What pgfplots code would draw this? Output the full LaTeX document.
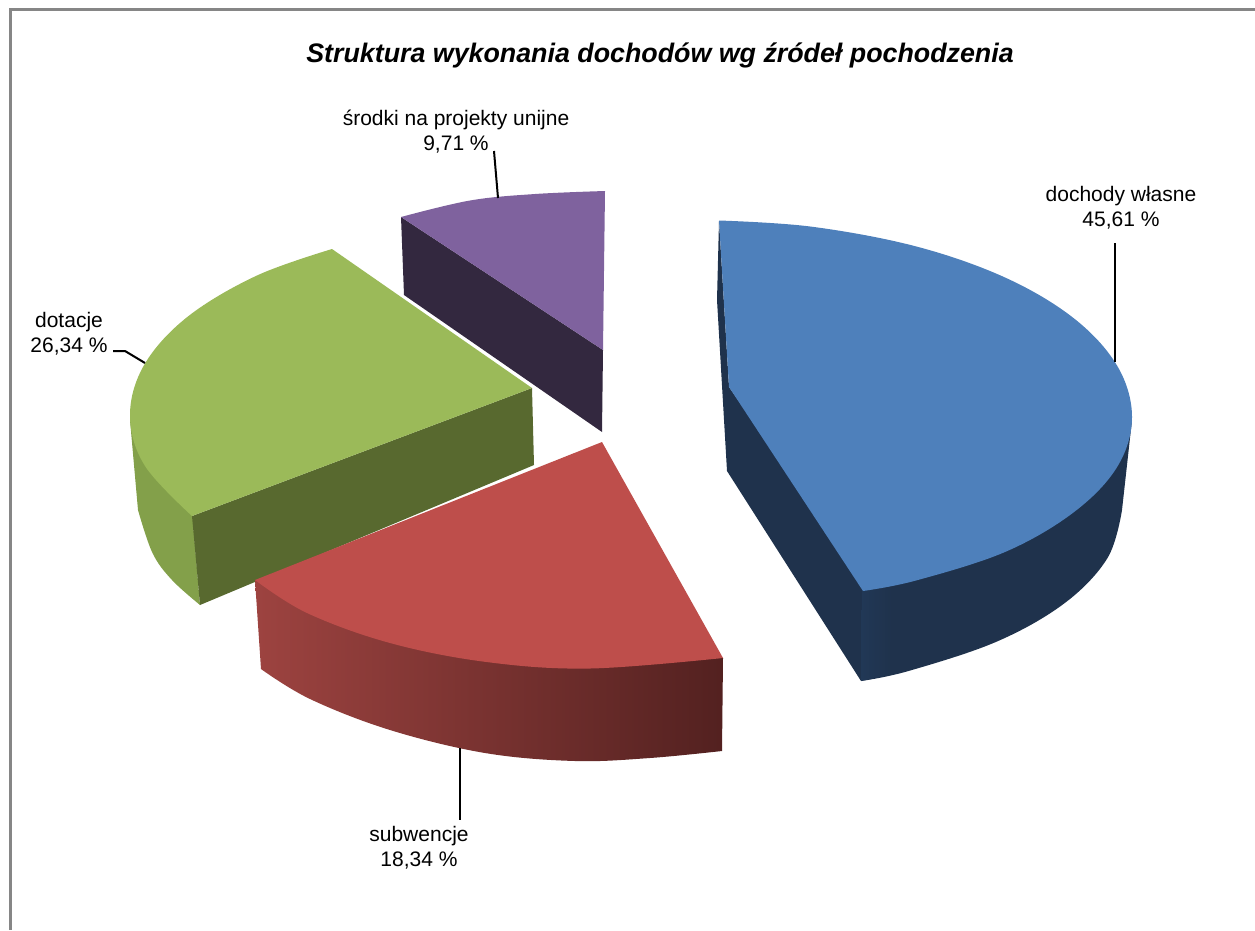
\documentclass[border=0pt]{standalone}
\usepackage{pgfplots}
\pgfplotsset{compat=1.18}
\usepackage{fontspec}
\setmainfont{Liberation Sans}
\definecolor{bluetop}{HTML}{4E80BB}
\definecolor{bluedark}{HTML}{1F324C}
\definecolor{bluelite}{HTML}{213856}
\definecolor{greentop}{HTML}{9BBA59}
\definecolor{greenwall}{HTML}{58692F}
\definecolor{greenout}{HTML}{83A04A}
\definecolor{redtop}{HTML}{BE4E4B}
\definecolor{redl}{HTML}{9D4340}
\definecolor{redr}{HTML}{532120}
\definecolor{purtop}{HTML}{7F629E}
\definecolor{purdark}{HTML}{33283F}
\definecolor{framec}{HTML}{868686}
\tikzset{
  face/.style={draw=none,fill=#1},
  curve/.style={draw=none,fill=#1,smooth,tension=0.6},
  lead/.style={black,line width=2pt},
  lab/.style={align=center,font=\fontsize{21}{25.5}\selectfont,inner sep=0pt}}
\begin{document}
\begin{tikzpicture}
\path[use as bounding box] (0,0) rectangle (1255pt,930pt);
\begin{axis}[at={(0,0)},anchor=south west,width=1255pt,height=930pt,scale only axis,hide axis,
  xmin=0,xmax=1255,ymin=0,ymax=930,y dir=reverse,clip=true,
  every axis plot/.append style={no markers}]
% frame
\addplot[framec,line width=3pt] coordinates {(10.5,930)(10.5,9.5)(1255,9.5)};
% purple
\addplot[face=purdark] coordinates {(401,217)(404,295)(602,432)(603,350)} -- cycle;
\addplot[curve=purtop] coordinates {(401,217)(470,200.5)(535,194)(605,191)} -- (axis cs:603,350) -- cycle;
% green
\addplot[curve=greenout] coordinates {(138,510)(152.5,553)(172,580)(200,605)} -- (axis cs:192,510) -- (axis cs:130,420) -- cycle;
\addplot[face=greenwall] coordinates {(192,516)(200,605)(534,465)(532,388)} -- cycle;
\addplot[curve=greentop] coordinates {(332,249)(256.5,275.7)(187.9,316.5)(144.7,364)(130,415)(144.7,465.5)(192,516)} -- (axis cs:532,388) -- cycle;
% red
\addplot[draw=none,smooth,tension=0.6,left color=redl,right color=redr] coordinates {(261,669)(310,699)(390,730)(485,753)(575,761)(650,758)(722,751)} -- (axis cs:723,658) -- (axis cs:255,580) -- cycle;
\addplot[curve=redtop] coordinates {(255,580)(307,613)(390,643)(486.5,662)(590,668.5)(723,658)} -- (axis cs:602,442) -- cycle;
% blue
\addplot[face=bluedark] coordinates {(719,221)(717,300)(727,471)(861,681)(870,591)(729,387)} -- cycle;
\addplot[curve=bluedark] coordinates {(1122,510)(1107.5,558)(1064.8,603)(997,641.5)(908.5,671)(861,681)} -- (axis cs:863,585) -- (axis cs:1132,420) -- cycle;
\addplot[draw=none,left color=bluelite,right color=bluedark] coordinates {(862,585)(861,681)(890,675)(892,585)} -- cycle;
\addplot[curve=bluetop] coordinates {(719,220.5)(811.8,226.7)(916,246.4)(1005.5,277.7)(1074.1,318.5)(1117.3,366)(1132,417)(1117.3,466.7)(1074.1,512)(1005.5,551.8)(916,580.5)(863,591)} -- (axis cs:729,387) -- cycle;
% leaders
\addplot[lead] coordinates {(1115,362)(1115,243)};
\addplot[lead] coordinates {(498,198)(494,151)};
\addplot[lead] coordinates {(145,363)(125,351)(113,351)};
\addplot[lead] coordinates {(460,748)(460,820)};
% text
\node[font=\fontsize{26.8}{30}\selectfont\bfseries\itshape,inner sep=0pt] at (axis cs:660,55) {Struktura wykonania dochodów wg źródeł pochodzenia};
\node[lab] at (axis cs:1121,207.5) {dochody własne\\45,61 \%};
\node[lab] at (axis cs:456,131.5) {środki na projekty unijne\\9,71 \%};
\node[lab] at (axis cs:69,333.5) {dotacje\\26,34 \%};
\node[lab] at (axis cs:419,847.5) {subwencje\\18,34 \%};
\end{axis}
\end{tikzpicture}
\end{document}
